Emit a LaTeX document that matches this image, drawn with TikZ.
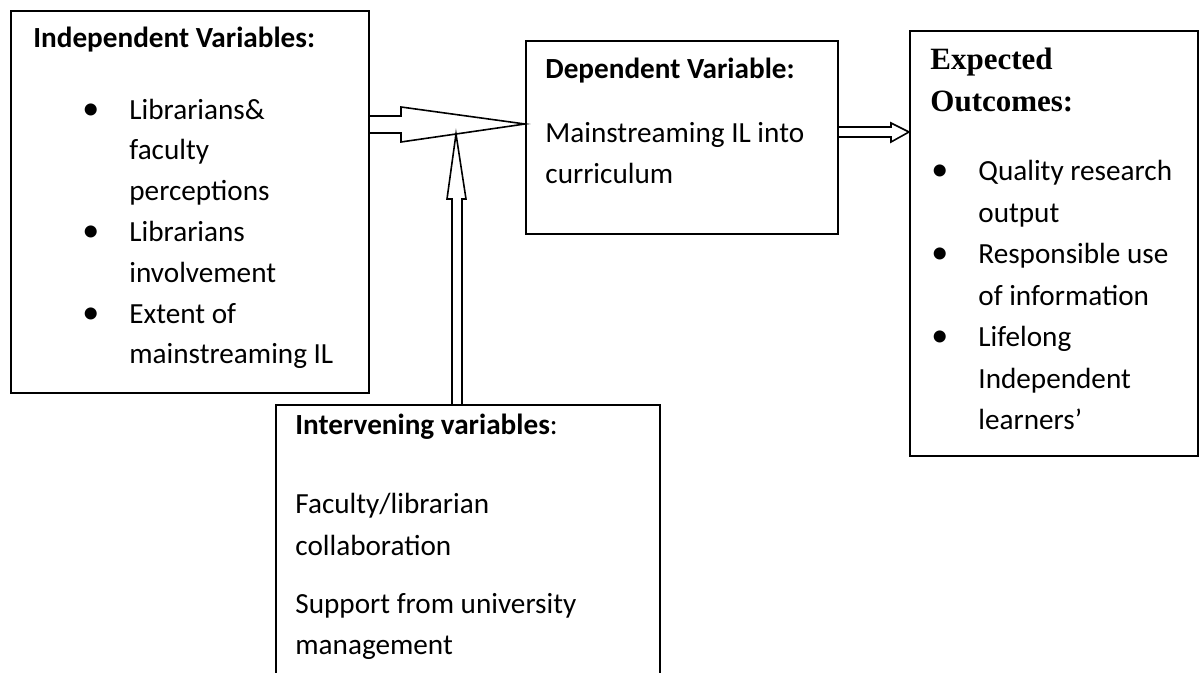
\documentclass[tikz,border=0pt]{standalone}
\usepackage{fontspec}
\setmainfont{Carlito}
\newfontfamily\headserif{Liberation Serif}
\usetikzlibrary{calc}

\newcommand{\bodyfont}{\fontsize{14.6pt}{20.75pt}\selectfont}
\newcommand{\bul}{\llap{\makebox[23.5pt][l]{\fontsize{17pt}{17pt}\selectfont\textbullet}}}

\tikzset{
	box/.style = {draw, line width=1pt, anchor=north west, inner sep=0pt},
	body/.style = {anchor=base west, inner sep=0pt, align=left, font=\bodyfont},
	heading/.style = {body, font=\bodyfont\bfseries},
	serifhead/.style = {anchor=base west, inner sep=0pt, align=left, font=\headserif\bfseries\fontsize{15.5pt}{21pt}\selectfont},
	blockarrow/.style = {draw, line width=0.8pt, line join=miter},
}

\begin{document}
\begin{tikzpicture}[x=0.5pt, y=-0.5pt]
	\clip (0,0) rectangle (1201,673);
	
	% the four boxes
	\node[box, minimum width=179pt, minimum height=191pt] (ind) at (10,10) {};
	\node[box, minimum width=156pt, minimum height=96.5pt] (dep) at (525,40) {};
	\node[box, minimum width=144pt, minimum height=212.5pt] (out) at (909,30) {};
	\node[box, minimum width=192pt, minimum height=160pt] (inter) at (275,404) {}; % runs off the page
	
	% independent variables (multi-line nodes sit on their last baseline)
	\node[heading] (indhead) at (33,48) {Independent Variables:};
	\node[body, font=\fontsize{14.6pt}{20.4pt}\selectfont] (indlist) at (129,364) {\bul Librarians\&\\ faculty\\ perceptions\\ \bul Librarians\\ involvement\\ \bul Extent of\\ mainstreaming IL};
	
	% dependent variable
	\node[heading] (dephead) at (545,79) {Dependent Variable:};
	\node[body] (deptext) at (545,184) {Mainstreaming IL into\\ curriculum};
	
	% expected outcomes
	\node[serifhead] (outhead) at (930,112) {Expected\\ Outcomes:};
	\node[body] (outlist) at (978,430) {\bul Quality research\\ output\\ \bul Responsible use\\ of information\\ \bul Lifelong\\ Independent\\ learners’};
	
	% intervening variables
	\node[body] (interhead) at (295,435) {\textbf{Intervening variables}:};
	\node[body] (intertext) at (295,655) {Faculty/librarian\\ collaboration\\[8.25pt] Support from university\\ management};
	
	% block arrows
	\coordinate (join) at (456,134);
	\draw[blockarrow] ($(ind.north east)+(0,106)$) -- (401,116) -- (401,107) -- ($(dep.north west)+(0,84)$)
		-- (401,142) -- (401,133) -- ($(ind.north east)+(0,123)$);
	\draw[blockarrow] ($(dep.north east)+(0,87)$) -- (891,127) -- (891,123) -- ($(out.north west)+(0,102)$)
		-- (891,142) -- (891,137) -- ($(dep.north east)+(0,97)$);
	\draw[blockarrow] ($(inter.north west)+(177,0)$) -- (452,199) -- (447,199) -- (join)
		-- (466,199) -- (462,199) -- ($(inter.north west)+(187,0)$);
\end{tikzpicture}
\end{document}
